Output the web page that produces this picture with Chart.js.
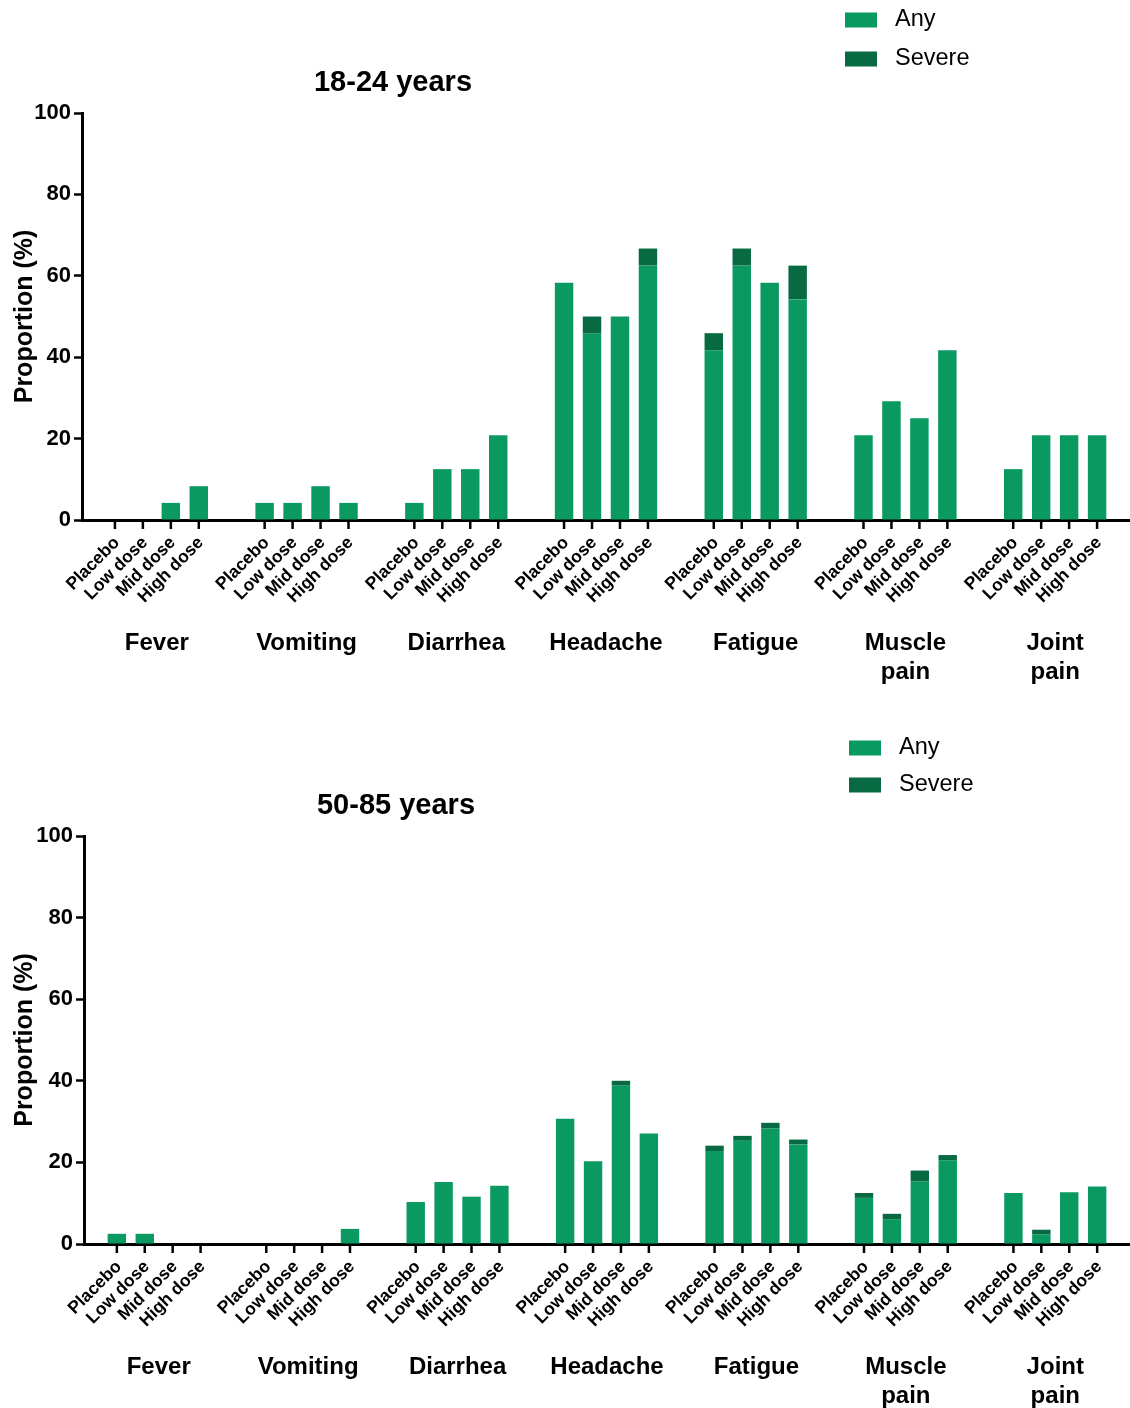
<!DOCTYPE html>
<html lang="en">
<head>
<meta charset="utf-8">
<title>Adverse events by age group</title>
<script src="https://cdn.jsdelivr.net/npm/chart.js"></script>
<style>
  body { margin: 0; background: #fff; }
  canvas { display: block; }
</style>
</head>
<body>
<canvas id="young" width="1130" height="724"></canvas>
<canvas id="old" width="1130" height="684"></canvas>
<script>
// categories
const symptoms = [['Fever'], ['Vomiting'], ['Diarrhea'], ['Headache'], ['Fatigue'], ['Muscle', 'pain'], ['Joint', 'pain']];
const doses = ['Placebo', 'Low dose', 'Mid dose', 'High dose'];
const yTicks = [0, 20, 40, 60, 80, 100];

// 18-24 years, light part of bar ("Any") and dark part on top ("Severe"), %
const anyYoungPlacebo = [0, 4.2, 4.2, 58.3, 41.7, 20.8, 12.5];
const anyYoungLow     = [0, 4.2, 12.5, 45.8, 62.5, 29.2, 20.8];
const anyYoungMid     = [4.2, 8.3, 12.5, 50.0, 58.3, 25.0, 20.8];
const anyYoungHigh    = [8.3, 4.2, 20.8, 62.5, 54.2, 41.7, 20.8];
const sevYoungPlacebo = [0, 0, 0, 0, 4.2, 0, 0];
const sevYoungLow     = [0, 0, 0, 4.2, 4.2, 0, 0];
const sevYoungMid     = [0, 0, 0, 0, 0, 0, 0];
const sevYoungHigh    = [0, 0, 0, 4.2, 8.3, 0, 0];

// 50-85 years
const anyOldPlacebo = [2.5, 0, 10.3, 30.7, 22.8, 11.3, 12.5];
const anyOldLow     = [2.5, 0, 15.2, 20.3, 25.3, 6.1, 2.3];
const anyOldMid     = [0, 0, 11.6, 38.8, 28.3, 15.3, 12.7];
const anyOldHigh    = [0, 3.7, 14.3, 27.1, 24.4, 20.5, 14.1];
const sevOldPlacebo = [0, 0, 0, 0, 1.3, 1.2, 0];
const sevOldLow     = [0, 0, 0, 0, 1.2, 1.3, 1.2];
const sevOldMid     = [0, 0, 0, 1.2, 1.4, 2.7, 0];
const sevOldHigh    = [0, 0, 0, 0, 1.2, 1.3, 0];

const FONT = '"Liberation Sans", Arial, sans-serif';
const ANY_COLOR = '#0a9960';
const SEVERE_COLOR = '#076a42';

// draws the per-bar ticks, rotated dose labels, the title and the legend
const extras = {
  id: 'extras',
  afterDraw(chart, args, opts) {
    const ctx = chart.ctx;
    const base = chart.chartArea.bottom;
    ctx.save();
    ctx.strokeStyle = '#000';
    ctx.lineWidth = 2.5;
    ctx.fillStyle = '#000';
    chart.data.datasets.forEach((ds, i) => {
      if (ds.part !== 'any') return;
      chart.getDatasetMeta(i).data.forEach(bar => {
        ctx.beginPath();
        ctx.moveTo(bar.x, base);
        ctx.lineTo(bar.x, base + 9);
        ctx.stroke();
        ctx.save();
        ctx.translate(bar.x + 2, base + 20);
        ctx.rotate(-Math.PI / 4);
        ctx.font = 'bold 17.5px ' + FONT;
        ctx.textAlign = 'right';
        ctx.textBaseline = 'middle';
        ctx.fillText(ds.dose, 0, 0);
        ctx.restore();
      });
    });

    // title
    ctx.font = 'bold 29px ' + FONT;
    ctx.textAlign = 'center';
    ctx.textBaseline = 'middle';
    ctx.fillText(opts.title, opts.titleX, opts.titleY);

    // legend
    ctx.font = '23.5px ' + FONT;
    ctx.textAlign = 'left';
    [['Any', ANY_COLOR], ['Severe', SEVERE_COLOR]].forEach(([label, color], k) => {
      const y = opts.legendY + k * opts.legendGap;
      ctx.fillStyle = color;
      ctx.fillRect(opts.legendX, y - 7.5, 32, 15);
      ctx.fillStyle = '#000';
      ctx.fillText(label, opts.legendX + 50, y);
    });
    ctx.restore();
  }
};

function makeChart(id, anyArrs, sevArrs, cfg) {
  const datasets = [];
  doses.forEach((dose, d) => {
    datasets.push({ label: 'Any', dose: dose, part: 'any', data: anyArrs[d], stack: dose,
                    backgroundColor: ANY_COLOR, borderWidth: 0 });
    datasets.push({ label: 'Severe', dose: dose, part: 'severe', data: sevArrs[d], stack: dose,
                    backgroundColor: SEVERE_COLOR, borderWidth: 0 });
  });

  return new Chart(document.getElementById(id), {
    type: 'bar',
    data: { labels: symptoms, datasets: datasets },
    plugins: [extras],
    options: {
      responsive: false,
      animation: false,
      categoryPercentage: 0.747,
      barPercentage: 0.66,
      layout: { padding: { top: cfg.top, right: 0, left: 0, bottom: 0 } },
      plugins: {
        legend: { display: false },
        tooltip: { enabled: false },
        extras: cfg
      },
      scales: {
        x: {
          stacked: true,
          grid: { display: false },
          border: { display: true, color: '#000', width: 3 },
          ticks: {
            color: '#000',
            padding: 101,
            maxRotation: 0,
            autoSkip: false,
            font: { family: FONT, size: 24, weight: 'bold', lineHeight: 1.21 }
          },
          afterFit(scale) {
            scale.height = cfg.xHeight;
            scale.paddingLeft = 0;
            scale.paddingRight = 0;
          }
        },
        y: {
          stacked: true,
          min: 0,
          max: 100,
          afterBuildTicks(scale) { scale.ticks = yTicks.map(v => ({ value: v })); },
          grid: { drawOnChartArea: false, drawTicks: true, tickLength: 8, tickWidth: 2.5, color: '#000' },
          border: { display: true, color: '#000', width: 3 },
          ticks: {
            color: '#000',
            padding: 3,
            font: { family: FONT, size: 22, weight: 'bold' }
          },
          title: {
            display: true,
            text: 'Proportion (%)',
            color: '#000',
            padding: { top: 10, bottom: 4 },
            font: { family: FONT, size: 25, weight: 'bold' }
          },
          afterFit(scale) { scale.width = cfg.yWidth; }
        }
      }
    }
  });
}

makeChart('young',
  [anyYoungPlacebo, anyYoungLow, anyYoungMid, anyYoungHigh],
  [sevYoungPlacebo, sevYoungLow, sevYoungMid, sevYoungHigh],
  { title: '18-24 years', titleX: 393, titleY: 83, legendX: 845, legendY: 20, legendGap: 39,
    top: 113, yWidth: 82, xHeight: 204 });

makeChart('old',
  [anyOldPlacebo, anyOldLow, anyOldMid, anyOldHigh],
  [sevOldPlacebo, sevOldLow, sevOldMid, sevOldHigh],
  { title: '50-85 years', titleX: 396, titleY: 82, legendX: 849, legendY: 24, legendGap: 37,
    top: 112, yWidth: 84, xHeight: 164 });
</script>
</body>
</html>
